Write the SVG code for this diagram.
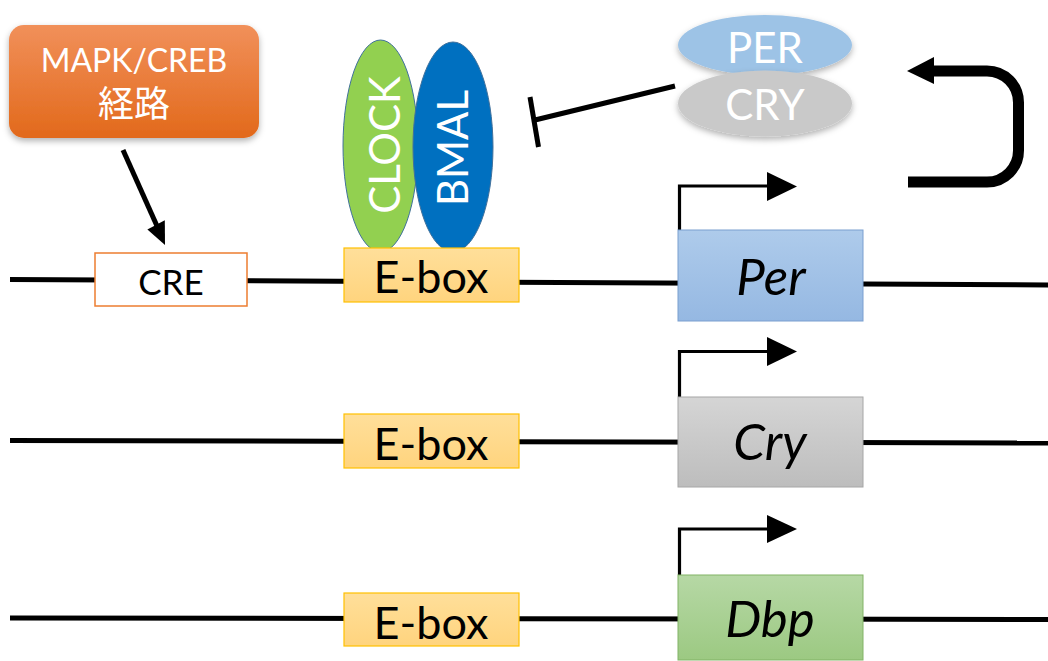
<svg xmlns="http://www.w3.org/2000/svg" width="1048" height="661" viewBox="0 0 1048 661">
<defs>
<style>
.t{font-family:Lato,"Open Sans","Noto Sans CJK JP",sans-serif}
.w{fill:#fff}
.k{fill:#000}
.dna{stroke:#000;stroke-width:5;fill:none}
.ln{stroke:#000;fill:none}
.ebox{fill:url(#gE);stroke:#FFC000;stroke-width:1.2}
.g{font-style:italic;font-size:51px}
</style>
<linearGradient id="gO" x1="0" y1="0" x2="0" y2="1"><stop offset="0" stop-color="#F1905A"/><stop offset="1" stop-color="#E2691B"/></linearGradient>
<linearGradient id="gE" x1="0" y1="0" x2="0" y2="1"><stop offset="0" stop-color="#FFDF9A"/><stop offset="1" stop-color="#FFD47E"/></linearGradient>
<linearGradient id="gP" x1="0" y1="0" x2="0" y2="1"><stop offset="0" stop-color="#AECBEB"/><stop offset="1" stop-color="#95B8E2"/></linearGradient>
<linearGradient id="gC" x1="0" y1="0" x2="0" y2="1"><stop offset="0" stop-color="#D5D5D5"/><stop offset="1" stop-color="#BDBDBD"/></linearGradient>
<linearGradient id="gD" x1="0" y1="0" x2="0" y2="1"><stop offset="0" stop-color="#B6D8A5"/><stop offset="1" stop-color="#9CC982"/></linearGradient>
<filter id="sh" x="-20%" y="-20%" width="140%" height="150%"><feDropShadow dx="0" dy="3" stdDeviation="3" flood-color="#000" flood-opacity="0.3"/></filter>
</defs>

<g id="connectors">
<line class="dna" x1="10" y1="279.5" x2="1048" y2="285"/>
<line class="dna" x1="10" y1="440.5" x2="1048" y2="443"/>
<line class="dna" x1="10" y1="618" x2="1048" y2="619.5"/>
<line class="ln" stroke-width="5" x1="123" y1="150" x2="157" y2="226"/>
<polygon class="k" points="165,245 164.8,220.3 147.4,229.5"/>
<line class="ln" stroke-width="5" x1="675" y1="86" x2="535" y2="120"/>
<line class="ln" stroke-width="5" x1="530" y1="97" x2="538.5" y2="147"/>
<path class="ln" stroke-width="11" d="M908,182 H987 A31.5,31.5 0 0 0 1018.5,150.5 V102.5 A31.5,31.5 0 0 0 987,71 H928"/>
<polygon class="k" points="907,71 934,57 934,84"/>
<path class="ln" stroke-width="3.2" d="M679.5,230 V186 H770"/>
<polygon class="k" points="767,172 797,186.5 767,201"/>
<path class="ln" stroke-width="3.2" d="M679.5,397 V351.5 H770"/>
<polygon class="k" points="767,337 797,351.5 767,366"/>
<path class="ln" stroke-width="3.2" d="M679.5,575 V529 H770"/>
<polygon class="k" points="767,515 797,529 767,543"/>
</g>

<g id="mapk">
<rect x="9" y="25" width="250" height="113" rx="15" fill="url(#gO)" filter="url(#sh)"/>
<text class="t w" x="134" y="72" font-size="32" text-anchor="middle">MAPK/CREB</text>
<text class="t w" x="134" y="117" font-size="36" text-anchor="middle">経路</text>
</g>

<g id="cre">
<rect x="95" y="253" width="152" height="53" fill="#fff" stroke="#ED7D31" stroke-width="1.5"/>
<text class="t k" x="171" y="295" font-size="35" text-anchor="middle">CRE</text>
</g>

<g id="clock">
<ellipse cx="380.5" cy="146" rx="37.5" ry="106" fill="#92D050" stroke="#41719C" stroke-width="1"/>
<text class="t w" transform="translate(400,145) rotate(-90)" font-size="42" text-anchor="middle">CLOCK</text>
</g>
<g id="bmal">
<ellipse cx="453" cy="147" rx="40" ry="105" fill="#0070C0" stroke="#41719C" stroke-width="1"/>
<text class="t w" transform="translate(468,148) rotate(-90)" font-size="42" text-anchor="middle">BMAL</text>
</g>

<g id="ebox1">
<rect class="ebox" x="344" y="248" width="175" height="54"/>
<text class="t k" x="431" y="293" font-size="45" text-anchor="middle">E-box</text>
</g>
<g id="ebox2">
<rect class="ebox" x="344" y="414" width="175" height="54"/>
<text class="t k" x="431" y="460" font-size="45" text-anchor="middle">E-box</text>
</g>
<g id="ebox3">
<rect class="ebox" x="344" y="593" width="175" height="53"/>
<text class="t k" x="431" y="639" font-size="45" text-anchor="middle">E-box</text>
</g>

<g id="per-protein">
<ellipse cx="765" cy="45" rx="87" ry="30" fill="#9DC3E6" filter="url(#sh)"/>
<text class="t w" x="765" y="63" font-size="42" text-anchor="middle">PER</text>
</g>
<g id="cry-protein">
<ellipse cx="765" cy="103.5" rx="87" ry="33" fill="#C9C9C9" filter="url(#sh)"/>
<text class="t w" x="765" y="120" font-size="42" text-anchor="middle">CRY</text>
</g>

<g id="per-gene">
<rect x="678" y="230" width="185" height="91" fill="url(#gP)" stroke="#7A9FD0" stroke-width="1"/>
<text class="t k g" x="771" y="295" text-anchor="middle">Per</text>
</g>
<g id="cry-gene">
<rect x="678" y="397" width="185" height="90" fill="url(#gC)" stroke="#A6A6A6" stroke-width="1"/>
<text class="t k g" x="770" y="460" text-anchor="middle">Cry</text>
</g>
<g id="dbp-gene">
<rect x="678" y="575" width="185" height="85" fill="url(#gD)" stroke="#82B366" stroke-width="1"/>
<text class="t k g" x="770" y="637" text-anchor="middle">Dbp</text>
</g>
</svg>
